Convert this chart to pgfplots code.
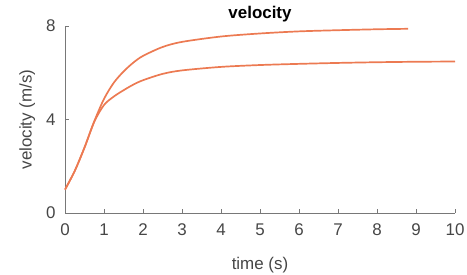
\documentclass[border=0pt]{standalone}
\usepackage{fontspec}
\setmainfont{Liberation Sans}
\usepackage{pgfplots}
\pgfplotsset{compat=1.18}
\usetikzlibrary{calc}
\definecolor{curve}{RGB}{236,122,82}
\definecolor{axgray}{RGB}{120,120,120}
\definecolor{txtgray}{RGB}{70,70,70}
\begin{document}
\begin{tikzpicture}
\begin{axis}[
  scale only axis,
  width=390bp, height=187bp,
  xmin=0, xmax=10, ymin=0, ymax=8,
  axis lines*=left,
  axis line style={axgray, line width=0.8bp},
  xtick={0,1,...,10}, ytick={0,4,8},
  tick align=inside,
  major tick length=4bp,
  tick style={axgray, line width=0.8bp},
  ticklabel style={font=\fontsize{17}{19}\selectfont, text=txtgray},
  xticklabel style={yshift=-7bp},
  yticklabel style={xshift=-6bp},
  /pgf/number format/assume math mode=true,
  xlabel={time (s)}, ylabel={velocity (m/s)},
  label style={font=\fontsize{17}{19}\selectfont, text=txtgray},
  xlabel style={yshift=-15bp},
  ylabel style={yshift=4bp},
  title={\textbf{velocity}},
  title style={font=\fontsize{17}{19}\selectfont, yshift=-6bp},
  clip=false,
]
\coordinate (SW) at (rel axis cs:0,0);
\coordinate (NE) at (rel axis cs:1,1);
\addplot[curve, line width=1.7bp, smooth, tension=0.5] coordinates {
(0,1.0) (0.25,1.8) (0.5,2.8) (0.75,3.92) (1.0,4.88) (1.25,5.57) (1.5,6.05)
(1.75,6.43) (2.0,6.72) (2.5,7.1) (3.0,7.32) (4.0,7.55) (5.0,7.68) (6.0,7.77)
(7.0,7.82) (8.0,7.86) (8.8,7.88)};
\addplot[curve, line width=1.7bp, smooth, tension=0.5] coordinates {
(0,1.0) (0.25,1.8) (0.5,2.8) (0.75,3.9) (1.0,4.62) (1.25,4.98) (1.5,5.25)
(1.75,5.49) (2.0,5.68) (2.5,5.95) (3.0,6.1) (4.0,6.25) (5.0,6.33) (6.0,6.38)
(7.0,6.42) (8.0,6.45) (9.0,6.47) (10.0,6.48)};
\end{axis}
\pgfresetboundingbox
\useasboundingbox ($(SW)+(-65bp,-62bp)$) rectangle ($(NE)+(12bp,26bp)$);
\end{tikzpicture}
\end{document}
